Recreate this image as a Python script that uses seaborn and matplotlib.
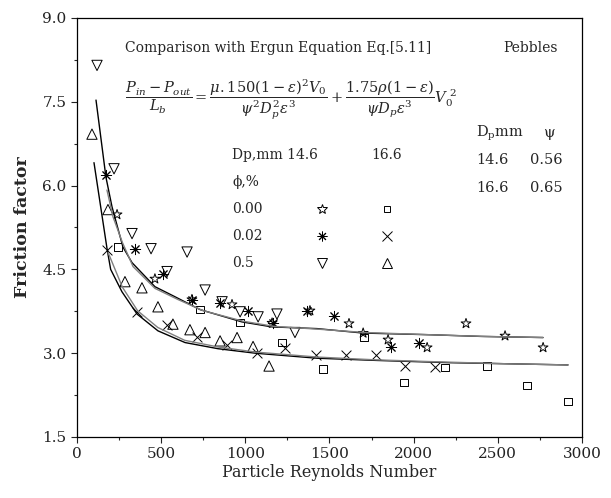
import numpy as np
import pandas as pd
import seaborn as sns
import matplotlib.pyplot as plt
from matplotlib.ticker import MultipleLocator

# data (Particle Reynolds number, friction factor)
# Dp = 14.6 mm
star_re = [238, 463, 683, 921, 1159, 1384, 1616, 1700, 1848, 2080, 2311, 2543, 2769]
star_f = [5.48, 4.33, 3.96, 3.87, 3.54, 3.76, 3.53, 3.36, 3.24, 3.10, 3.53, 3.31, 3.10]

ast_re = [172, 345, 511, 683, 850, 1016, 1165, 1367, 1527, 1866, 2032]
ast_f = [6.19, 4.87, 4.42, 3.96, 3.90, 3.76, 3.54, 3.76, 3.67, 3.11, 3.19]

tdn_re = [119, 220, 327, 440, 535, 654, 761, 862, 969, 1076, 1188, 1295]
tdn_f = [8.15, 6.30, 5.14, 4.87, 4.46, 4.81, 4.13, 3.92, 3.74, 3.65, 3.70, 3.37]

# Dp = 16.6 mm
sq_re = [243, 731, 969, 1218, 1462, 1705, 1943, 2187, 2436, 2674, 2917]
sq_f = [4.90, 3.78, 3.55, 3.19, 2.72, 3.28, 2.47, 2.74, 2.77, 2.42, 2.13]

x_re = [178, 357, 535, 713, 891, 1070, 1236, 1420, 1598, 1777, 1949, 2127]
x_f = [4.85, 3.74, 3.51, 3.29, 3.15, 3.01, 3.10, 2.97, 2.97, 2.97, 2.77, 2.76]

tup_re = [89, 184, 285, 386, 481, 570, 671, 761, 850, 951, 1046, 1141]
tup_f = [6.92, 5.57, 4.28, 4.17, 3.83, 3.52, 3.42, 3.37, 3.22, 3.28, 3.12, 2.77]

up1_re = [113, 172, 208, 273, 327, 463, 582, 731, 980, 1159, 1426, 1700, 2097, 2400, 2769]
up1_f = [7.53, 6.15, 5.62, 4.90, 4.62, 4.19, 4.01, 3.78, 3.56, 3.47, 3.44, 3.36, 3.33, 3.30, 3.28]
up2_re = [178, 214, 270, 333, 463, 600, 750, 990, 1170, 1430, 1710, 2100, 2420, 2769]
up2_f = [5.92, 5.44, 4.98, 4.55, 4.16, 3.96, 3.76, 3.57, 3.48, 3.43, 3.37, 3.33, 3.30, 3.28]
lo1_re = [101, 178, 200, 267, 357, 481, 642, 838, 1058, 1426, 1783, 2216, 2917]
lo1_f = [6.41, 4.88, 4.50, 4.10, 3.70, 3.40, 3.19, 3.08, 3.00, 2.91, 2.87, 2.83, 2.79]
lo2_re = [185, 270, 360, 480, 640, 840, 1060, 1430, 1780, 2200, 2560, 2917]
lo2_f = [4.80, 4.18, 3.76, 3.46, 3.23, 3.11, 3.02, 2.93, 2.88, 2.84, 2.81, 2.79]

sns.set_theme(style="ticks")
plt.rcParams['font.family'] = ['DejaVu Serif']
plt.rcParams['mathtext.fontset'] = 'dejavuserif'

fig = plt.figure(figsize=(6.11, 4.98), dpi=100)
ax = fig.add_axes([0.126, 0.1225, 0.8265, 0.8415])

# curves
curves = [(up1_re, up1_f, 'black'), (up2_re, up2_f, '#808080'),
          (lo1_re, lo1_f, 'black'), (lo2_re, lo2_f, '#808080')]
for cre, cf, col in curves:
    sns.lineplot(x=cre, y=cf, color=col, lw=1.0, sort=False, estimator=None, ax=ax)

# scatter series
filled = dict(facecolors='none', edgecolors='black', linewidths=0.7)
sns.scatterplot(x=star_re, y=star_f, marker='*', s=55, ax=ax, **filled)
sns.scatterplot(x=ast_re, y=ast_f, marker=(8, 2, 0), s=55, color='black', linewidth=0.7, ax=ax)
sns.scatterplot(x=tdn_re, y=tdn_f, marker='v', s=55, ax=ax, **filled)
sns.scatterplot(x=sq_re, y=sq_f, marker='s', s=28, ax=ax, **filled)
sns.scatterplot(x=x_re, y=x_f, marker='x', s=50, color='black', linewidth=0.7, ax=ax)
sns.scatterplot(x=tup_re, y=tup_f, marker='^', s=55, ax=ax, **filled)

ax.set_xlim(0, 3000)
ax.set_ylim(1.5, 9.0)
ax.xaxis.set_major_locator(MultipleLocator(500))
ax.xaxis.set_minor_locator(MultipleLocator(250))
ax.yaxis.set_major_locator(MultipleLocator(1.5))
ax.yaxis.set_minor_locator(MultipleLocator(0.75))
ax.yaxis.set_major_formatter(plt.FormatStrFormatter('%.1f'))
ax.tick_params(which='major', direction='out', length=4, width=0.8, labelsize=11, colors='#222222')
ax.tick_params(which='minor', direction='out', length=2.5, width=0.8)
for sp in ax.spines.values():
    sp.set_visible(True)
    sp.set_linewidth(0.9)
    sp.set_color('black')

ax.set_xlabel('Particle Reynolds Number', fontsize=11.5, labelpad=2)
ax.set_ylabel('Friction factor', fontsize=12.5, fontweight='bold', labelpad=8)

tr = ax.transAxes
fs = 10
ax.text(0.095, 0.928, 'Comparison with Ergun Equation Eq.[5.11]', transform=tr,
        fontsize=fs, va='center')
ax.text(0.844, 0.928, 'Pebbles', transform=tr, fontsize=fs, va='center')
eq = (r'$\dfrac{P_{in}-P_{out}}{L_b}=\dfrac{\mu.150\left(1-\varepsilon\right)^2 V_0}'
      r'{\psi^2 D_p^2\varepsilon^3}+\dfrac{1.75\rho\left(1-\varepsilon\right)}'
      r'{\psi D_p\varepsilon^3}V_0^{\ 2}$')
ax.text(0.095, 0.805, eq, transform=tr, fontsize=10.5, va='center')

ax.text(0.307, 0.673, 'Dp,mm 14.6', transform=tr, fontsize=fs, va='center')
ax.text(0.582, 0.673, '16.6', transform=tr, fontsize=fs, va='center')
ax.text(0.307, 0.609, 'ϕ,%', transform=tr, fontsize=fs, va='center')
rows = [('0.00', 0.544, ('*', 'none'), ('s', 'none')),
        ('0.02', 0.480, ((8, 2, 0), 'black'), ('x', 'black')),
        ('0.5', 0.415, ('v', 'none'), ('^', 'none'))]
for lab, fy, m1, m2 in rows:
    ax.text(0.307, fy, lab, transform=tr, fontsize=fs, va='center')
    for fx, (mk, fc) in ((0.485, m1), (0.614, m2)):
        ms = 5 if mk == 's' else 7
        ax.plot([fx], [fy], transform=tr, marker=mk, ms=ms, mfc=fc, mec='black',
                mew=0.7, ls='none', clip_on=False)

ax.text(0.790, 0.725, r'D$_{\mathrm{p}}$mm', transform=tr, fontsize=10.5, va='center')
ax.text(0.923, 0.725, 'ψ', transform=tr, fontsize=10.5, va='center')
ax.text(0.790, 0.661, '14.6', transform=tr, fontsize=10.5, va='center')
ax.text(0.897, 0.661, '0.56', transform=tr, fontsize=10.5, va='center')
ax.text(0.790, 0.594, '16.6', transform=tr, fontsize=10.5, va='center')
ax.text(0.897, 0.594, '0.65', transform=tr, fontsize=10.5, va='center')

fig.savefig('out.png', dpi=100)
